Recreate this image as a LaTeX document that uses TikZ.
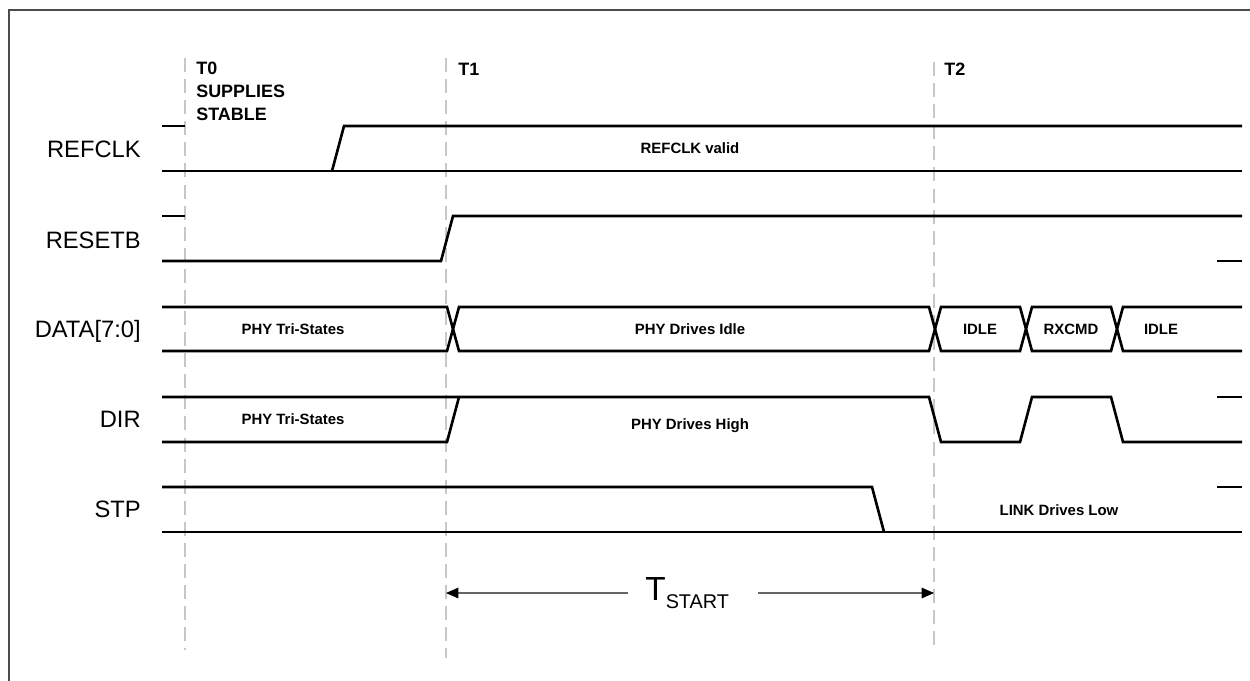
\documentclass[tikz,border=0pt]{standalone}
\usepackage{fontspec}
\setmainfont{Liberation Sans}
\usetikzlibrary{positioning,arrows.meta}

\begin{document}
\begin{tikzpicture}[
  x=0.02cm, y=-0.02cm,
  wave/.style={line width=1.5pt,line join=miter},
  marker/.style={draw=black!22,line width=1.1pt,dash pattern=on 8pt off 4pt},
  signame/.style={anchor=base east,inner sep=0pt,font=\fontsize{13.5}{14}\selectfont},
  busval/.style={anchor=base,inner sep=0pt,font=\bfseries\fontsize{8.5}{9}\selectfont},
  tlabel/.style={anchor=north west,inner sep=0pt,align=left,font=\bfseries\fontsize{10.2}{13}\selectfont},
  dim/.style={draw=black!60,line width=0.6pt,arrows={Triangle[length=7pt,width=6pt,black]-Triangle[length=7pt,width=6pt,black]}}
]
  \clip (0,0) rectangle (1250,680);
  \draw[black!70,line width=1.2pt] (9,10) rectangle (1300,730);

  % time markers
  \coordinate (t0top) at (185,58);  \coordinate (t0bot) at (185,650);
  \coordinate (t1top) at (446,58);  \coordinate (t1bot) at (446,658);
  \coordinate (t2top) at (934,62);  \coordinate (t2bot) at (934,652);
  \draw[marker] (t0top) -- (t0bot);
  \draw[marker] (t1top) -- (t1bot);
  \draw[marker] (t2top) -- (t2bot);

  \node[tlabel] (t0) at (196,62) {T0\\SUPPLIES\\STABLE};
  \node[tlabel] (t1) at (458,63) {T1};
  \node[tlabel] (t2) at (944,63) {T2};

  % signal names
  \node[signame] (refclk) at (141,157) {REFCLK};
  \node[signame] (resetb) at (141,248) {RESETB};
  \node[signame] (data)   at (141,337) {DATA[7:0]};
  \node[signame] (dir)    at (141,427) {DIR};
  \node[signame] (stp)    at (141,517) {STP};

  % REFCLK
  \draw[wave] (162,126) -- (185,126);
  \draw[wave] (162,171) -- (1242,171);
  \draw[wave] (332,171) -- (344,126) -- (1242,126);
  \node[busval] (refval) at (690,153) {REFCLK valid};

  % RESETB
  \draw[wave] (162,216) -- (185,216);
  \draw[wave] (162,261) -- (441,261) -- (453,216) -- (1242,216);
  \draw[wave] (1217,261) -- (1242,261);

  % DATA[7:0]
  \draw[wave] (162,307) -- (447,307) -- (459,351) -- (929,351) -- (941,307) -- (1020,307)
    -- (1032,351) -- (1111,351) -- (1123,307) -- (1242,307);
  \draw[wave] (162,351) -- (447,351) -- (459,307) -- (929,307) -- (941,351) -- (1020,351)
    -- (1032,307) -- (1111,307) -- (1123,351) -- (1242,351);
  \node[busval] (dtri)   at (293,334) {PHY Tri-States};
  \node[busval] (didle)  at (690,334) {PHY Drives Idle};
  \node[busval] (idlea)  at (980,334) {IDLE};
  \node[busval] (rxcmd)  at (1071,334) {RXCMD};
  \node[busval] (idleb)  at (1161,334) {IDLE};

  % DIR
  \draw[wave] (162,397) -- (929,397) -- (941,442) -- (1020,442) -- (1032,397) -- (1111,397)
    -- (1123,442) -- (1242,442);
  \draw[wave] (162,442) -- (447,442) -- (459,397);
  \draw[wave] (1217,397) -- (1242,397);
  \node[busval] (dirtri)  at (293,424) {PHY Tri-States};
  \node[busval] (dirhigh) at (690,429) {PHY Drives High};

  % STP
  \draw[wave] (162,487) -- (872,487) -- (884,532);
  \draw[wave] (162,532) -- (1242,532);
  \draw[wave] (1217,487) -- (1242,487);
  \node[busval] (stplow) at (1059,515) {LINK Drives Low};

  % T_START
  \coordinate (tsl) at (446,593);
  \coordinate (tsr) at (934,593);
  \coordinate (gapl) at (628,593);
  \coordinate (gapr) at (758,593);
  \node[anchor=base west,inner sep=0pt] (tstart) at (645,600)
    {\fontsize{19}{19}\selectfont T\fontsize{11.3}{12}\selectfont\raisebox{-5pt}{START}};
  \draw[dim,-{Triangle[length=7pt,width=6pt,black]}] (gapl) -- (tsl);
  \draw[dim,-{Triangle[length=7pt,width=6pt,black]}] (gapr) -- (tsr);
\end{tikzpicture}
\end{document}
